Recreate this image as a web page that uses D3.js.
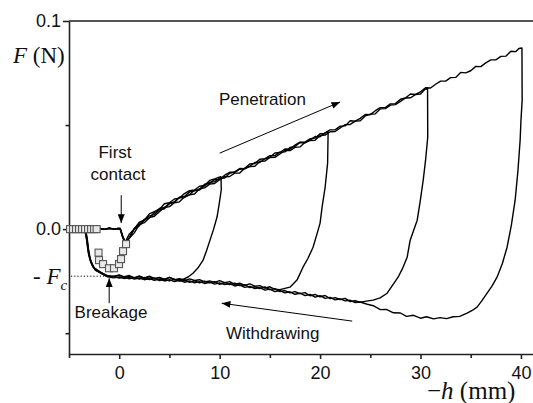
<!DOCTYPE html>
<html>
<head>
<meta charset="utf-8">
<script src="https://cdn.jsdelivr.net/npm/d3@7"></script>
<style>
  html, body { margin: 0; padding: 0; background: #fff; }
  svg { display: block; }
  .sans { font-family: "Liberation Sans", Arial, sans-serif; }
  .serif { font-family: "Liberation Serif", "Times New Roman", serif; }
</style>
</head>
<body>
<svg id="chart" width="533" height="403"></svg>
<script>
// Axis ticks
const xTicksMajor = [0, 10, 20, 30, 40];
const xTicksMinor = [-5, 5, 15, 25, 35];
const yTicksMajor = [0.1, 0.0];
const yTickLabels = ["0.1", "0.0"];
const yTicksMinor = [0.05, -0.05];
const criticalForce = 0.0226;   // F_c (N)

// Approach at zero force before contact (shared by all cycles), [-h (mm), F (N)]
const approach = [[-5,0.0002],[-4.5,-0.0002],[-4.0,0.0003],[-3.5,-0.0001],[-3.0,0.0003],[-2.5,-0.0002],
  [-2.0,0.0004],[-1.5,-0.0001],[-1.0,0.0004],[-0.5,0.0000],[-0.1,0.0003]];

// Cycle to 10 mm: penetration, then relaxation, withdrawal and breakage
const load10 = [[0.1,0.0004],[0.35,-0.0033],[0.6,-0.0062],[1.0,-0.0024],[1.5,0.0001],[2.0,0.0034],[2.5,0.0043],
  [3.0,0.0073],[3.5,0.0084],[4.0,0.0095],[4.5,0.0122],[5.0,0.0127],[5.5,0.0145],[6.0,0.0149],[6.5,0.0171],
  [7.0,0.0185],[7.5,0.0188],[8.0,0.0206],[8.5,0.0210],[9.0,0.0234],[9.5,0.0241],[10.1,0.0252]];
const unload10 = [[10.14,0.0250],[10.16,0.0188],[9.95,0.0120],[9.74,0.0058],[9.4,0.0000],[9.04,-0.0053],
  [8.7,-0.0103],[8.35,-0.0149],[7.85,-0.0186],[7.35,-0.0212],[6.85,-0.0230],[6.35,-0.0241],[5.6,-0.0244],
  [5.0,-0.0232],[4.5,-0.0242],[4.0,-0.0232],[3.5,-0.0237],[3.0,-0.0226],[2.5,-0.0236],[2.0,-0.0228],
  [1.5,-0.0234],[1.0,-0.0223],[0.5,-0.0229],[0.0,-0.0220],[-0.6,-0.0227],[-1.2,-0.0222],
  [-1.9,-0.0207],[-2.6,-0.0183],[-2.9,-0.0150],[-3.1,-0.0110],[-3.25,-0.0050],[-3.4,-0.0008],
  [-3.6,0.0003],[-4.2,-0.0002],[-5,0.0001]];

// Cycle to 20.8 mm
const load20 = [[0.1,0.0001],[0.35,-0.0038],[0.6,-0.0068],[1.0,-0.0042],[1.5,0.0004],[2.0,0.0023],[2.5,0.0047],
  [3.0,0.0054],[3.5,0.0080],[4.0,0.0099],[4.5,0.0104],[5.0,0.0123],[5.5,0.0129],[6.0,0.0153],[6.5,0.0157],
  [7.0,0.0179],[7.5,0.0184],[8.0,0.0192],[8.5,0.0216],[9.0,0.0220],[9.5,0.0238],[10.0,0.0239],[10.5,0.0259],
  [11.0,0.0273],[11.5,0.0273],[12.0,0.0288],[12.5,0.0292],[13.0,0.0313],[13.5,0.0315],[14.0,0.0336],
  [14.5,0.0338],[15.0,0.0345],[15.5,0.0366],[16.0,0.0368],[16.5,0.0385],[17.0,0.0384],[17.5,0.0404],
  [18.0,0.0418],[18.5,0.0418],[19.0,0.0434],[19.5,0.0437],[20.0,0.0458],[20.4,0.0459],[20.8,0.0468]];
const unload20 = [[20.8,0.0466],[20.75,0.0317],[20.5,0.0200],[20.2,0.0106],[20.0,0.0029],[19.65,-0.0030],
  [19.3,-0.0087],[18.8,-0.0140],[18.3,-0.0183],[17.7,-0.0245],[17.0,-0.0279],[16.0,-0.0291],
  [15.5,-0.0289],[15.0,-0.0277],[14.5,-0.0284],[14.0,-0.0272],[13.5,-0.0274],[13.0,-0.0263],[12.5,-0.0270],
  [12.0,-0.0260],[11.5,-0.0265],[11.0,-0.0252],[10.5,-0.0257],[10.0,-0.0247],[9.5,-0.0256],[9.0,-0.0249],
  [8.5,-0.0254],[8.0,-0.0243],[7.5,-0.0247],[7.0,-0.0239],[6.5,-0.0248],[6.0,-0.0238],[5.5,-0.0243],
  [5.0,-0.0232],[4.5,-0.0242],[4.0,-0.0233],[3.5,-0.0240],[3.0,-0.0229],[2.5,-0.0235],[2.0,-0.0225],
  [1.5,-0.0234],[1.0,-0.0226],[0.5,-0.0231],[0.0,-0.0222],[-0.6,-0.0227],[-1.2,-0.0226],
  [-1.8,-0.0212],[-2.4,-0.0196],[-2.75,-0.0168],[-3.0,-0.0125],[-3.15,-0.0070],[-3.3,-0.0020],
  [-3.5,0.0002],[-4.0,-0.0003],[-4.5,0.0002],[-5,0]];

// Cycle to 30.7 mm
const load30 = [[0.1,-0.0002],[0.35,-0.0040],[0.6,-0.0070],[1.0,-0.0044],[1.5,-0.0018],[2.0,0.0022],[2.5,0.0031],
  [3.0,0.0055],[3.5,0.0062],[4.0,0.0084],[4.5,0.0104],[5.0,0.0108],[5.5,0.0127],[6.0,0.0131],[6.5,0.0155],
  [7.0,0.0165],[7.5,0.0169],[8.0,0.0194],[8.5,0.0198],[9.0,0.0216],[9.5,0.0219],[10.0,0.0237],[10.5,0.0252],
  [11.0,0.0253],[11.5,0.0269],[12.0,0.0270],[12.5,0.0293],[13.0,0.0301],[13.5,0.0302],[14.0,0.0326],
  [14.5,0.0327],[15.0,0.0344],[15.5,0.0345],[16.0,0.0361],[16.5,0.0377],[17.0,0.0377],[17.5,0.0393],
  [18.0,0.0395],[18.5,0.0417],[19.0,0.0426],[19.5,0.0427],[20.0,0.0450],[20.5,0.0452],[21.0,0.0468],
  [21.5,0.0469],[22.0,0.0486],[22.5,0.0502],[23.0,0.0503],[23.5,0.0519],[24.0,0.0521],[24.5,0.0544],
  [25.0,0.0552],[25.5,0.0554],[26.0,0.0578],[26.5,0.0579],[27.0,0.0596],[27.5,0.0598],[28.0,0.0614],
  [28.5,0.0630],[29.0,0.0631],[29.5,0.0647],[30.0,0.0649],[30.4,0.0670],[30.7,0.0678]];
const unload30 = [[30.72,0.0442],[30.5,0.0330],[30.27,0.0236],[29.97,0.0135],[29.67,0.0043],[28.97,-0.0053],
  [28.67,-0.0135],[28.2,-0.0190],[27.77,-0.0231],[26.68,-0.0308],[25.98,-0.0330],[25.28,-0.0341],[23.98,-0.0351],
  [23.5,-0.0344],[23.0,-0.0348],[22.5,-0.0333],[22.0,-0.0338],[21.5,-0.0329],[21.0,-0.0334],[20.5,-0.0319],
  [20.0,-0.0325],[19.5,-0.0314],[19.0,-0.0320],[18.5,-0.0305],[18.0,-0.0310],[17.5,-0.0300],[17.0,-0.0306],
  [16.5,-0.0295],[16.0,-0.0300],[15.5,-0.0286],[15.0,-0.0291],[14.5,-0.0278],[14.0,-0.0286],[13.5,-0.0277],
  [13.0,-0.0281],[12.5,-0.0267],[12.0,-0.0271],[11.5,-0.0260],[11.0,-0.0266],[10.5,-0.0257],[10.0,-0.0265],
  [9.5,-0.0252],[9.0,-0.0258],[8.5,-0.0250],[8.0,-0.0258],[7.5,-0.0249],[7.0,-0.0256],[6.5,-0.0242],
  [6.0,-0.0250],[5.5,-0.0241],[5.0,-0.0249],[4.5,-0.0241],[4.0,-0.0247],[3.5,-0.0235],[3.0,-0.0242],
  [2.5,-0.0232],[2.0,-0.0240],[1.5,-0.0232],[1.0,-0.0239],[0.5,-0.0229],[0.0,-0.0235],[-0.6,-0.0227],
  [-1.2,-0.0228],
  [-1.9,-0.0205],[-2.5,-0.0186],[-2.85,-0.0150],[-3.05,-0.0100],[-3.2,-0.0040],[-3.35,-0.0005],
  [-3.7,0.0002],[-4.3,-0.0002],[-5,0.0001]];

// Cycle to 40.1 mm
const load40 = [[0.1,0.0002],[0.35,-0.0036],[0.6,-0.0066],[1.0,-0.0043],[1.5,0.0000],[2.0,0.0016],[2.5,0.0042],
  [3.0,0.0064],[3.5,0.0070],[4.0,0.0093],[4.5,0.0098],[5.0,0.0123],[5.5,0.0131],[6.0,0.0152],[6.5,0.0152],
  [7.0,0.0166],[7.5,0.0187],[8.0,0.0188],[8.5,0.0209],[9.0,0.0225],[9.5,0.0227],[10.0,0.0246],[10.5,0.0246],
  [11.0,0.0268],[11.5,0.0275],[12.0,0.0291],[12.5,0.0290],[13.0,0.0302],[13.5,0.0320],[14.0,0.0320],
  [14.5,0.0338],[15.0,0.0353],[15.5,0.0353],[16.0,0.0370],[16.5,0.0371],[17.0,0.0392],[17.5,0.0397],
  [18.0,0.0416],[18.5,0.0414],[19.0,0.0427],[19.5,0.0445],[20.0,0.0444],[20.5,0.0463],[21.0,0.0477],
  [21.5,0.0477],[22.0,0.0495],[22.5,0.0496],[23.0,0.0521],[23.5,0.0519],[24.0,0.0532],[24.5,0.0551],
  [25.0,0.0550],[25.5,0.0569],[26.0,0.0584],[26.5,0.0584],[27.0,0.0602],[27.5,0.0603],[28.0,0.0624],
  [28.5,0.0630],[29.0,0.0649],[29.5,0.0647],[30.0,0.0660],[30.5,0.0679],[31.0,0.0678],[31.5,0.0696],
  [32.0,0.0711],[32.5,0.0711],[33.0,0.0728],[33.5,0.0729],[34.0,0.0753],[34.5,0.0751],[35.0,0.0761],
  [35.5,0.0782],[36.0,0.0781],[36.5,0.0799],[37.0,0.0813],[37.5,0.0813],[38.0,0.0830],[38.5,0.0831],
  [39.0,0.0855],[39.5,0.0853],[39.8,0.0868],[40.1,0.0870]];
const unload40 = [[40.12,0.0620],[40.0,0.0520],[39.92,0.0428],[39.7,0.0280],[39.42,0.0139],[39.05,0.0020],
  [38.62,-0.0087],[38.15,-0.0165],[37.62,-0.0231],[37.1,-0.0275],[36.63,-0.0308],[36.1,-0.0345],
  [35.63,-0.0375],[35.1,-0.0392],[34.64,-0.0404],[33.9,-0.0419],[33.25,-0.0421],[32.6,-0.0430],[31.95,-0.0425],
  [31.3,-0.0431],[30.6,-0.0421],[30.0,-0.0428],[29.3,-0.0414],[28.6,-0.0419],[28.0,-0.0403],[27.3,-0.0402],
  [26.6,-0.0386],[26.0,-0.0387],[25.3,-0.0368],[24.7,-0.0361],[24.0,-0.0350],[23.5,-0.0353],[23.0,-0.0342],
  [22.5,-0.0345],[22.0,-0.0335],[21.5,-0.0340],[21.0,-0.0328],[20.5,-0.0333],[20.0,-0.0320],[19.5,-0.0327],
  [19.0,-0.0314],[18.5,-0.0319],[18.0,-0.0308],[17.5,-0.0313],[17.0,-0.0301],[16.5,-0.0306],[16.0,-0.0295],
  [15.5,-0.0300],[15.0,-0.0288],[14.5,-0.0293],[14.0,-0.0281],[13.5,-0.0286],[13.0,-0.0275],[12.5,-0.0280],
  [12.0,-0.0268],[11.5,-0.0273],[11.0,-0.0262],[10.5,-0.0266],[10.0,-0.0258],[9.5,-0.0264],[9.0,-0.0255],
  [8.5,-0.0261],[8.0,-0.0252],[7.5,-0.0258],[7.0,-0.0249],[6.5,-0.0255],[6.0,-0.0246],[5.5,-0.0252],
  [5.0,-0.0243],[4.5,-0.0249],[4.0,-0.0240],[3.5,-0.0246],[3.0,-0.0238],[2.5,-0.0243],[2.0,-0.0235],
  [1.5,-0.0240],[1.0,-0.0232],[0.5,-0.0238],[0.0,-0.0230],[-0.6,-0.0234],[-1.2,-0.0228],
  [-1.7,-0.0215],[-2.3,-0.0200],[-2.65,-0.0175],[-2.95,-0.0135],[-3.15,-0.0080],[-3.3,-0.0030],
  [-3.5,0.0001],[-4.1,0.0003],[-4.6,-0.0002],[-5,0]];

// Square-marker series around contact and breakage
const sqX = [-4.9,-4.6,-4.3,-4.0,-3.7,-3.4,-3.1,-2.8,-2.5,-2.25,-2.06,-2.01,-1.61,-1.02,-0.52,-0.02,0.18,0.38,0.68];
const sqF = [0,0,0,0,0,0,0,0,0,0,-0.0113,-0.0149,-0.0168,-0.0188,-0.0188,-0.0168,-0.0144,-0.0106,-0.0072];

const cycles = [
  approach.concat(load10, unload10),
  approach.concat(load20, unload20),
  approach.concat(load30, unload30),
  approach.concat(load40, unload40)
];

const svg = d3.select("#chart");
const x = d3.scaleLinear().domain([-5, 41.2]).range([69, 533]);
const y = d3.scaleLinear().domain([-0.06, 0.1]).range([354, 21]);

// arrowhead marker
svg.append("defs").append("marker")
  .attr("id", "arrow").attr("markerUnits", "userSpaceOnUse")
  .attr("viewBox", "0 0 10 8").attr("refX", 10).attr("refY", 4)
  .attr("markerWidth", 9).attr("markerHeight", 7).attr("orient", "auto")
  .append("path").attr("d", "M0,0 L10,4 L0,8 Z").attr("fill", "#000");

// top frame line at 0.1
svg.append("line")
  .attr("x1", x(-5)).attr("x2", 533).attr("y1", y(0.1)).attr("y2", y(0.1))
  .attr("stroke", "#555").attr("stroke-width", 2);

// x axis
const gx = svg.append("g").attr("transform", `translate(0,${y(-0.06)})`);
gx.call(d3.axisBottom(x).tickValues(xTicksMajor).tickSize(5).tickPadding(7).tickSizeOuter(0).tickFormat(d3.format("d")));
gx.append("g").call(d3.axisBottom(x).tickValues(xTicksMinor).tickSize(4).tickSizeOuter(0).tickFormat(""))
  .select(".domain").remove();
gx.selectAll(".domain, line").attr("stroke", "#222").attr("stroke-width", 1.6);
gx.selectAll("text").attr("class", "sans").attr("font-size", 18).attr("fill", "#111");

// y axis
const gy = svg.append("g").attr("transform", `translate(${x(-5)},0)`);
gy.call(d3.axisLeft(y).tickValues(yTicksMajor).tickSize(6).tickPadding(2).tickSizeOuter(0)
  .tickFormat((d, i) => yTickLabels[i]));
gy.append("g").call(d3.axisLeft(y).tickValues(yTicksMinor).tickSize(3.5).tickSizeOuter(0).tickFormat(""))
  .select(".domain").remove();
gy.selectAll(".domain, line").attr("stroke", "#222").attr("stroke-width", 1.6);
gy.selectAll("text").attr("class", "sans").attr("font-size", 18).attr("fill", "#111");

// -F_c reference
svg.append("line")
  .attr("x1", x(-5) + 2).attr("x2", x(-1.2)).attr("y1", y(-criticalForce)).attr("y2", y(-criticalForce))
  .attr("stroke", "#000").attr("stroke-width", 1).attr("stroke-dasharray", "1.2,2");
const fc = svg.append("text").attr("class", "serif").attr("x", 33).attr("y", y(-criticalForce) + 8)
  .attr("font-size", 23).attr("fill", "#111");
fc.append("tspan").text("- ");
fc.append("tspan").attr("font-style", "italic").text("F");
fc.append("tspan").attr("font-style", "italic").attr("font-size", 15).attr("dy", 6).text("c");

// axis titles
const yt = svg.append("text").attr("class", "serif").attr("x", 13).attr("y", 63)
  .attr("font-size", 23).attr("fill", "#111");
yt.append("tspan").attr("font-style", "italic").text("F");
yt.append("tspan").text(" (N)");
const xt = svg.append("text").attr("class", "serif").attr("x", 427).attr("y", 399)
  .attr("font-size", 25).attr("fill", "#111");
xt.append("tspan").text("\u2212");
xt.append("tspan").attr("font-style", "italic").text("h");
xt.append("tspan").text(" (mm)");

// force curves
const line = d3.line().x(d => x(d[0])).y(d => y(d[1]));
svg.append("g").selectAll("path").data(cycles).join("path")
  .attr("d", line).attr("fill", "none").attr("stroke", "#000")
  .attr("stroke-width", 1.4).attr("stroke-linejoin", "round");

// square markers
svg.append("g").selectAll("rect").data(sqX).join("rect")
  .attr("x", (d) => x(d) - 3.5).attr("y", (d, i) => y(sqF[i]) - 3.5)
  .attr("width", 7).attr("height", 7)
  .attr("fill", "#e8e8e8").attr("stroke", "#555").attr("stroke-width", 1.1);

// annotations
const arrows = [
  [[10.0, 0.0365], [22.0, 0.0611]],
  [[23.2, -0.0442], [10.2, -0.0356]],
  [[0.2, 0.0163], [0.2, 0.0029]],
  [[-1.0, -0.0356], [-1.0, -0.0236]]
];
svg.append("g").selectAll("line").data(arrows).join("line")
  .attr("x1", d => x(d[0][0])).attr("y1", d => y(d[0][1]))
  .attr("x2", d => x(d[1][0])).attr("y2", d => y(d[1][1]))
  .attr("stroke", "#000").attr("stroke-width", 1).attr("marker-end", "url(#arrow)");

const notes = [
  {t: "Penetration", x: 219, y: 105, a: "start"},
  {t: "First", x: 115, y: 158, a: "middle"},
  {t: "contact", x: 118, y: 180, a: "middle"},
  {t: "Breakage", x: 111, y: 318, a: "middle"},
  {t: "Withdrawing", x: 226, y: 339, a: "start"}
];
svg.append("g").selectAll("text").data(notes).join("text")
  .attr("class", "sans").attr("font-size", 17).attr("fill", "#111")
  .attr("x", d => d.x).attr("y", d => d.y).attr("text-anchor", d => d.a).text(d => d.t);
</script>
</body>
</html>
